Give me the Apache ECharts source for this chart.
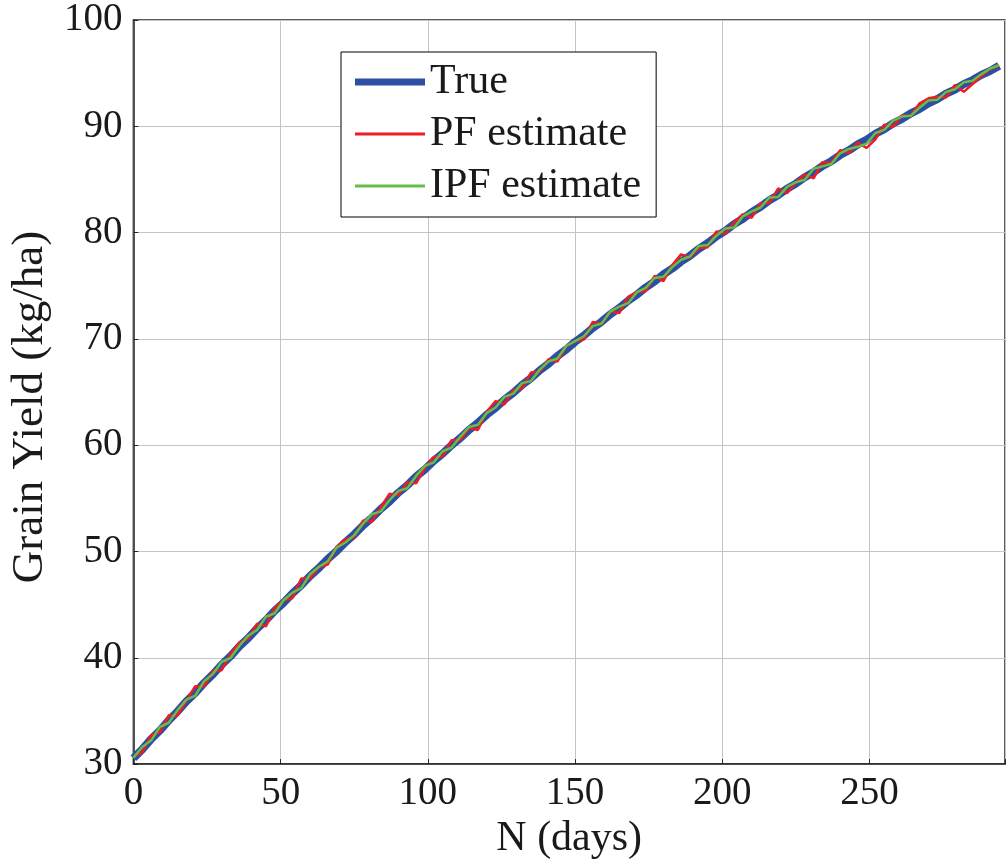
<!DOCTYPE html>
<html>
<head>
<meta charset="utf-8">
<script src="https://cdn.jsdelivr.net/npm/echarts@6/dist/echarts.min.js"></script>
<style>
html,body{margin:0;padding:0;background:#fff;}
#c{width:1008px;height:865px;}
</style>
</head>
<body>
<div id="c"></div>
<script>
const days = [0,3,6,9,12,15,18,21,24,27,30,33,36,39,42,45,48,51,54,57,60,63,66,69,72,75,78,81,84,87,90,93,96,99,102,105,108,111,114,117,120,123,126,129,132,135,138,141,144,147,150,153,156,159,162,165,168,171,174,177,180,183,186,189,192,195,198,201,204,207,210,213,216,219,222,225,228,231,234,237,240,243,246,249,252,255,258,261,264,267,270,273,276,279,282,285,288,291,294];

const trueYield = [30.55,31.38,32.35,33.16,34.12,34.95,35.90,36.70,37.63,38.44,39.36,40.15,41.07,41.85,42.75,43.53,44.42,45.18,46.06,46.82,47.69,48.44,49.30,50.03,50.88,51.61,52.45,53.17,54.00,54.71,55.53,56.22,57.04,57.72,58.52,59.20,59.99,60.66,61.44,62.10,62.87,63.52,64.28,64.92,65.67,66.30,67.04,67.66,68.39,69.00,69.72,70.32,71.03,71.62,72.32,72.90,73.59,74.16,74.84,75.40,76.07,76.62,77.28,77.82,78.47,79.00,79.64,80.16,80.80,81.30,81.93,82.43,83.04,83.53,84.13,84.61,85.20,85.67,86.26,86.72,87.29,87.74,88.30,88.74,89.30,89.73,90.27,90.69,91.22,91.63,92.16,92.56,93.07,93.46,93.97,94.35,94.84,95.21,95.70];

const pfEstimate = [30.70,31.11,32.71,33.00,34.59,34.58,35.96,37.33,37.30,38.77,38.83,40.38,41.43,41.78,43.22,42.96,44.69,45.41,45.63,47.45,47.46,48.57,48.77,50.46,51.15,51.34,52.92,52.80,54.17,55.44,55.30,56.55,56.41,57.85,58.89,58.93,60.46,60.49,61.61,61.43,63.14,64.15,63.85,65.15,65.34,66.83,66.91,68.09,67.86,69.33,69.79,69.95,71.60,71.45,72.59,72.43,73.96,74.39,74.51,75.93,75.44,76.95,77.95,77.65,78.54,78.63,80.11,79.89,80.97,81.73,81.40,82.76,82.81,84.16,83.70,84.74,85.47,85.10,86.63,86.55,87.76,87.47,88.47,87.97,88.77,90.16,89.94,91.02,90.99,92.16,92.63,92.79,92.74,93.89,93.24,93.98,94.71,95.44,95.67];

const ipfEstimate = [30.60,31.61,32.21,33.50,33.89,35.08,36.06,36.43,37.80,38.47,39.63,39.98,41.13,42.08,42.62,43.86,44.19,45.41,46.13,46.55,47.86,48.57,49.07,50.36,50.85,51.54,52.62,53.50,53.77,54.84,55.70,55.95,57.11,58.05,58.39,59.43,59.76,60.79,61.71,61.93,63.04,63.55,64.55,64.85,65.84,66.03,67.11,67.89,68.16,69.33,69.79,70.25,71.20,71.45,72.59,73.03,73.36,74.39,74.81,75.73,75.84,76.75,77.45,77.75,78.74,78.83,79.71,80.39,80.47,81.53,82.00,82.36,83.31,83.36,84.30,84.74,84.97,86.00,86.23,86.45,87.46,87.87,88.07,88.37,89.37,89.66,90.54,90.92,90.99,91.76,92.43,92.49,93.24,93.49,94.14,94.28,94.91,95.44,95.77];

const xTickLabels = [0,50,100,150,200,250];
const yTickLabels = [30,40,50,60,70,80,90,100];
const seriesNames = ['True','PF estimate','IPF estimate'];

const pairs = arr => days.map((d,i) => [d, arr[i]]);
const FONT = 'Liberation Serif';
const AX = '#262626';
const COLORS = ['#2d4fa3','#ee1c25','#67bd45'];

const chart = echarts.init(document.getElementById('c'), null, {renderer:'canvas'});
chart.setOption({
  animation:false,
  backgroundColor:'#fff',
  grid:{left:133, right:0, top:20, bottom:99, show:true, borderColor:AX, borderWidth:1.5, backgroundColor:'transparent'},
  legend:{
    orient:'vertical', left:341, top:52,
    padding:[9,15,10,14], itemGap:10, itemWidth:70, itemHeight:14,
    borderColor:'#000', borderWidth:1, backgroundColor:'#fff', borderRadius:0,
    textStyle:{fontFamily:FONT, fontSize:42, color:'#1a1a1a'},
    data:[
      {name:seriesNames[0], icon:'path://M0,0H70V7H0Z', itemStyle:{color:COLORS[0]}},
      {name:seriesNames[1], icon:'path://M0,0H70V3H0Z', itemStyle:{color:COLORS[1]}},
      {name:seriesNames[2], icon:'path://M0,0H70V3H0Z', itemStyle:{color:COLORS[2]}}
    ]
  },
  xAxis:{
    type:'value', min:0, max:296, interval:50,
    name:'N (days)', nameLocation:'middle', nameGap:50,
    nameTextStyle:{fontFamily:FONT, fontSize:42, color:'#1a1a1a'},
    axisLine:{show:true, onZero:false, lineStyle:{color:AX, width:1.5}},
    axisTick:{show:true, inside:true, length:5, lineStyle:{color:AX}},
    axisLabel:{fontFamily:FONT, fontSize:39, color:'#1a1a1a', margin:10,
      formatter:v => xTickLabels.includes(v) ? String(v) : ''},
    splitLine:{show:true, lineStyle:{color:'#c4c4c4', width:1}}
  },
  yAxis:{
    type:'value', min:30, max:100, interval:10,
    name:'Grain Yield (kg/ha)', nameLocation:'middle', nameGap:72,
    nameTextStyle:{fontFamily:FONT, fontSize:45, color:'#1a1a1a', padding:[0,30,0,0]},
    axisLine:{show:true, onZero:false, lineStyle:{color:AX, width:1.5}},
    axisTick:{show:true, inside:true, length:5, lineStyle:{color:AX}},
    axisLabel:{fontFamily:FONT, fontSize:39, color:'#1a1a1a', margin:11,
      formatter:v => yTickLabels.includes(v) ? String(v) : ''},
    splitLine:{show:true, lineStyle:{color:'#c4c4c4', width:1}}
  },
  series:[
    {name:seriesNames[0], type:'line', data:pairs(trueYield), showSymbol:false, symbol:'none',
     lineStyle:{color:COLORS[0], width:8}, itemStyle:{color:COLORS[0]}, z:2},
    {name:seriesNames[1], type:'line', data:pairs(pfEstimate), showSymbol:false, symbol:'none',
     lineStyle:{color:COLORS[1], width:2.5}, itemStyle:{color:COLORS[1]}, z:3},
    {name:seriesNames[2], type:'line', data:pairs(ipfEstimate), showSymbol:false, symbol:'none',
     lineStyle:{color:COLORS[2], width:2.5}, itemStyle:{color:COLORS[2]}, z:4}
  ]
});
</script>
</body>
</html>
